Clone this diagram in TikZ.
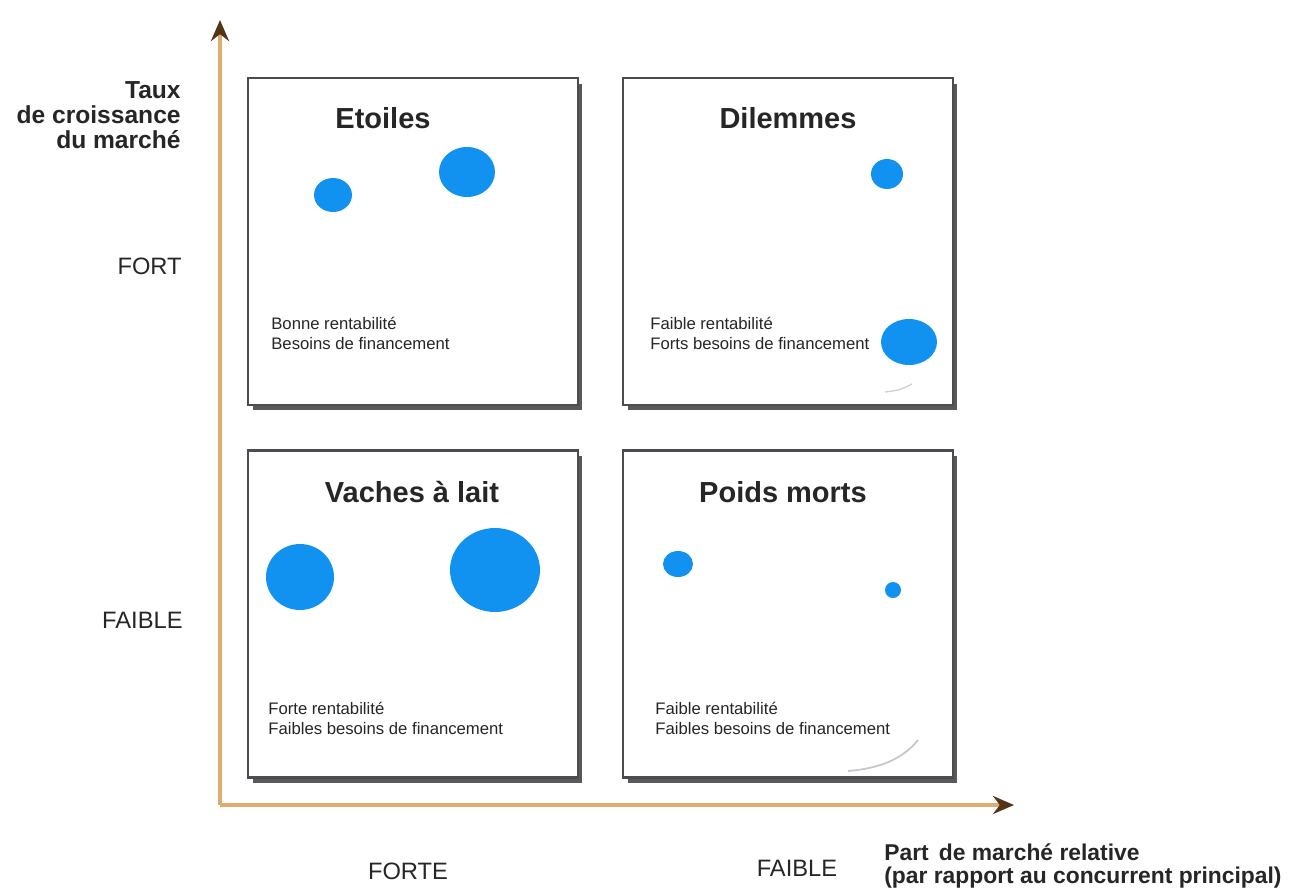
\documentclass[tikz,border=0pt]{standalone}
\usepackage{fontspec}
\setmainfont{Liberation Sans}
\usepackage{xcolor}
\usetikzlibrary{arrows.meta, positioning, shapes.geometric, shadows}
\definecolor{bcgblue}{RGB}{18,146,240}
\definecolor{axistan}{RGB}{222,172,112}
\definecolor{axisbrown}{RGB}{84,52,22}
\definecolor{framegray}{RGB}{78,74,82}

\begin{document}
\begin{tikzpicture}[x=0.02cm,y=-0.02cm,
    every node/.style={text=black!85},
    quad/.style={draw=framegray,line width=1.6pt,fill=white,minimum width=6.6cm,
        minimum height=6.54cm,
        drop shadow={shadow xshift=0.09cm,shadow yshift=-0.11cm,fill=black,opacity=0.65}},
    title/.style={font=\fontsize{16.5}{18}\selectfont\bfseries},
    note/.style={anchor=west,align=left,inner sep=0pt,font=\fontsize{9.5}{11.4}\selectfont},
    blob/.style={ellipse,fill=bcgblue,inner sep=0pt},
    level/.style={inner sep=0pt,font=\fontsize{13.5}{15}\selectfont},
    axis/.style={draw=axistan,line width=2.8pt,
        -{Stealth[length=0.42cm,width=0.36cm,color=axisbrown]}}]
  \useasboundingbox (0,0) rectangle (1313,893);

  \node[quad] (etoiles) at (413,241.5) {};
  \node[quad] (dilemmes) at (788,241.5) {};
  \node[quad] (vaches) at (413,614) {};
  \node[quad] (poids) at (788,614) {};

  \node[title] (tetoiles) at (383,118) {Etoiles};
  \node[title] (tdilemmes) at (788,118) {Dilemmes};
  \node[title] (tvaches) at (412,492) {Vaches à lait};
  \node[title] (tpoids) at (783,492) {Poids morts};

  \node[note] (netoiles) at (271,333) {Bonne rentabilité\\Besoins de financement};
  \node[note] (ndilemmes) at (650,333) {Faible rentabilité\\Forts besoins de financement};
  \node[note] (nvaches) at (268,718) {Forte rentabilité\\Faibles besoins de financement};
  \node[note] (npoids) at (655,718) {Faible rentabilité\\Faibles besoins de financement};

  \node[blob,minimum width=0.76cm,minimum height=0.68cm] (e1) at (333,195) {};
  \node[blob,minimum width=1.12cm,minimum height=1.0cm] (e2) at (467,172) {};
  \node[blob,minimum width=0.64cm,minimum height=0.6cm] (d1) at (887,174) {};
  \node[blob,minimum width=1.12cm,minimum height=0.92cm] (d2) at (909,342) {};
  \node[blob,minimum width=1.36cm,minimum height=1.32cm] (v1) at (300,577) {};
  \node[blob,minimum width=1.8cm,minimum height=1.68cm] (v2) at (495,570) {};
  \node[blob,minimum width=0.6cm,minimum height=0.52cm] (p1) at (678,564) {};
  \node[blob,minimum width=0.32cm,minimum height=0.32cm] (p2) at (893,590) {};

  % page curls
  \draw[black!18,line width=0.8pt] (885,392) .. controls (900,390) .. (912,384);
  \draw[black!22,line width=1pt] (848,771) .. controls (885,768) and (905,756) .. (918,740);

  \coordinate (origin) at (220,805);
  \coordinate (ytip) at (220,20);
  \coordinate (xtip) at (1014,805);
  \draw[axis] (origin) -- (ytip);
  \draw[axis] (origin) -- (xtip);

  \node[anchor=east,align=right,inner sep=0pt,font=\fontsize{14}{14.4}\selectfont\bfseries] (yname)
      at (181,115) {Taux\\de croissance\\du marché};
  \node[level,anchor=east] (fort) at (182,266) {FORT};
  \node[level,anchor=east] (faible) at (183,620) {FAIBLE};
  \node[level] (forte) at (408,871) {FORTE};
  \node[level] (faiblex) at (797,868) {FAIBLE};
  \node[anchor=west,align=left,inner sep=0pt,font=\fontsize{13}{13.4}\selectfont\bfseries] (xname)
      at (884,866) {Part\, de marché relative\\(par rapport au concurrent principal)};
\end{tikzpicture}
\end{document}
